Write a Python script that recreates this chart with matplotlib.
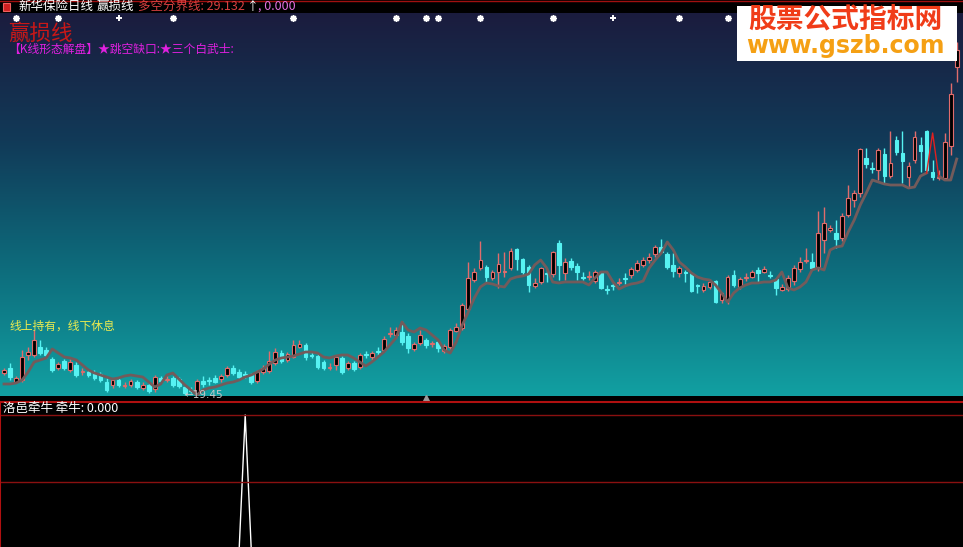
import numpy as np
import matplotlib
matplotlib.use("Agg")
import matplotlib.pyplot as plt
from matplotlib.colors import LinearSegmentedColormap
from matplotlib.patches import Rectangle

plt.rcParams["font.family"] = ["Noto Sans CJK SC", "DejaVu Sans"]

# 日K数据
opens = [
    21.7, 22.2, 20.8, 21.0, 23.5, 23.5, 24.3, 24.0, 23.1, 22.2,
    22.9, 22.0, 22.5, 21.85, 21.8, 21.6, 21.6, 20.8, 20.5, 21.0,
    20.45, 20.5, 20.8, 20.2, 20.5, 20.1, 21.2, 21.05, 21.2, 21.1,
    20.3, 20.05, 19.6, 20.9, 21.05, 21.2, 21.1, 21.5, 22.2, 21.8,
    21.6, 21.5, 20.9, 21.8, 21.9, 22.7, 23.7, 23.0, 23.3, 24.3,
    24.5, 23.55, 23.4, 22.8, 22.25, 22.5, 23.2, 22.2, 22.7, 22.3,
    23.65, 23.3, 23.95, 24.0, 25.65, 25.5, 25.8, 25.4, 24.1, 24.7,
    25.0, 24.65, 24.8, 23.9, 24.3, 25.9, 26.2, 28.1, 31.0, 32.2,
    32.3, 31.2, 31.8, 31.8, 32.2, 34.1, 33.1, 32.3, 30.4, 30.8,
    31.75, 31.6, 34.7, 31.7, 32.9, 32.4, 31.35, 31.35, 30.9, 31.8,
    30.15, 30.55, 30.7, 31.25, 31.5, 32.0, 32.5, 33.0, 33.6, 34.3,
    33.6, 32.5, 31.7, 31.85, 31.7, 30.55, 30.0, 30.3, 30.9, 29.0,
    29.0, 31.5, 30.3, 31.25, 31.3, 32.0, 31.8, 31.55, 31.1, 30.0,
    30.1, 30.9, 32.1, 32.95, 32.8, 32.3, 35.0, 36.0, 35.7, 35.2,
    37.5, 39.0, 39.7, 43.2, 42.25, 42.0, 43.6, 41.4, 45.0, 43.7,
    41.3, 43.0, 44.5, 45.9, 41.8, 41.25, 41.2, 44.4, 52.3,
]
closes = [
    22.0, 21.3, 21.2, 23.3, 23.8, 25.0, 23.7, 23.5, 22.0, 22.6,
    22.2, 22.8, 21.5, 21.95, 21.5, 21.2, 21.0, 20.0, 21.0, 20.5,
    20.55, 20.9, 20.3, 20.5, 19.9, 21.3, 20.9, 21.15, 20.5, 20.4,
    19.7, 19.95, 20.9, 20.6, 20.95, 20.8, 21.4, 22.2, 21.7, 21.3,
    21.5, 20.8, 21.8, 22.2, 22.9, 23.8, 22.9, 23.6, 24.5, 24.6,
    23.3, 23.45, 22.3, 22.2, 22.35, 23.3, 21.8, 22.7, 22.1, 23.5,
    23.55, 23.7, 23.85, 25.1, 25.75, 26.0, 24.8, 24.2, 24.6, 25.5,
    24.5, 24.75, 24.2, 24.4, 26.0, 26.3, 28.5, 31.2, 31.8, 33.0,
    31.3, 31.8, 32.6, 31.9, 33.9, 33.1, 31.8, 30.5, 30.7, 32.2,
    31.65, 33.8, 32.5, 32.8, 32.3, 31.8, 31.25, 31.45, 31.8, 30.2,
    30.05, 30.45, 30.8, 31.15, 32.1, 32.7, 33.0, 33.3, 34.3, 33.8,
    32.3, 31.9, 32.2, 31.75, 29.9, 30.45, 30.4, 30.8, 28.8, 29.7,
    31.3, 30.5, 31.1, 31.35, 31.8, 31.7, 32.1, 31.45, 30.2, 30.3,
    31.2, 32.2, 32.8, 33.05, 32.2, 35.7, 36.7, 36.2, 35.1, 37.4,
    39.2, 39.7, 44.1, 42.6, 42.15, 44.0, 41.4, 42.7, 43.8, 42.9,
    42.4, 45.3, 43.9, 42.0, 41.3, 41.35, 44.8, 49.6, 54.0,
]
highs = [
    22.2, 22.7, 21.4, 24.0, 24.3, 26.0, 25.0, 24.3, 23.3, 22.8,
    23.1, 23.1, 22.8, 22.2, 22.0, 22.0, 21.8, 21.2, 21.2, 21.2,
    20.8, 21.1, 21.0, 20.8, 20.7, 21.5, 21.4, 21.4, 21.4, 21.3,
    20.5, 20.3, 21.1, 21.4, 21.3, 21.5, 21.6, 22.4, 22.5, 22.1,
    21.9, 21.7, 22.0, 22.5, 23.9, 24.2, 24.0, 23.8, 25.0, 25.0,
    24.7, 23.8, 23.6, 23.0, 22.7, 23.5, 23.4, 22.9, 22.9, 23.7,
    23.9, 23.9, 24.3, 25.4, 26.3, 26.3, 26.9, 25.7, 24.8, 26.0,
    25.2, 24.9, 25.0, 24.6, 26.2, 26.7, 28.7, 32.8, 32.2, 34.9,
    32.5, 32.0, 33.7, 33.8, 34.2, 34.2, 33.2, 32.5, 31.2, 32.3,
    32.0, 33.9, 35.0, 33.2, 33.2, 32.7, 31.8, 31.9, 32.0, 31.8,
    30.5, 30.7, 31.2, 31.7, 32.3, 33.0, 33.3, 33.7, 34.5, 35.1,
    33.8, 33.7, 32.4, 32.0, 31.8, 30.6, 30.7, 31.1, 31.0, 29.8,
    31.5, 32.0, 31.3, 31.7, 32.0, 32.3, 32.4, 31.9, 31.2, 30.6,
    31.5, 32.5, 33.3, 34.2, 33.7, 37.9, 38.3, 36.5, 37.0, 37.7,
    40.5, 40.0, 44.2, 44.2, 42.8, 44.2, 44.2, 45.9, 45.4, 45.9,
    42.8, 45.9, 45.3, 46.0, 43.0, 42.0, 45.7, 50.7, 54.8,
]
lows = [
    21.5, 21.0, 20.7, 20.8, 23.0, 23.3, 23.5, 23.2, 21.8, 22.0,
    22.0, 21.8, 21.3, 21.5, 21.3, 21.0, 20.8, 19.8, 20.2, 20.3,
    20.2, 20.3, 20.1, 20.0, 19.7, 19.8, 20.7, 20.8, 20.3, 20.2,
    19.5, 19.7, 19.45, 20.3, 20.5, 20.7, 20.8, 21.3, 21.5, 21.1,
    21.2, 20.6, 20.7, 21.6, 21.7, 22.5, 22.7, 22.8, 23.2, 24.2,
    23.0, 23.2, 22.1, 22.0, 22.0, 22.0, 21.6, 22.0, 21.9, 22.1,
    23.2, 23.0, 23.5, 23.8, 25.3, 25.2, 24.5, 23.7, 23.9, 24.5,
    24.2, 24.3, 23.8, 23.7, 24.1, 25.8, 26.0, 27.9, 30.8, 32.0,
    30.8, 31.0, 30.2, 31.3, 32.0, 32.0, 31.5, 29.8, 30.2, 30.6,
    30.8, 31.3, 31.0, 31.0, 32.0, 31.0, 31.0, 31.0, 30.7, 30.1,
    29.6, 30.0, 30.5, 30.6, 31.2, 31.8, 32.3, 32.7, 33.3, 33.7,
    32.1, 31.3, 31.3, 30.8, 29.8, 29.7, 29.8, 30.1, 28.7, 28.7,
    28.6, 30.3, 30.1, 30.9, 31.2, 30.8, 31.7, 31.2, 29.5, 29.9,
    29.9, 30.5, 31.8, 32.7, 32.2, 31.9, 33.7, 35.8, 34.2, 34.9,
    37.3, 38.3, 39.3, 42.2, 41.7, 41.0, 40.6, 41.2, 43.5, 40.7,
    40.3, 42.7, 41.8, 41.8, 41.0, 41.0, 41.0, 43.5, 50.8,
]
# 赢损线
stop_line = [
    20.6, 20.6, 20.7, 21.0, 21.8, 22.8, 23.0, 23.2, 24.1, 23.7,
    23.3, 23.2, 23.0, 22.5, 22.0, 21.7, 21.5, 21.3, 21.1, 21.2,
    21.4, 21.5, 21.4, 21.3, 20.8, 20.3, 20.6, 21.5, 21.7, 21.1,
    20.5, 20.0, 19.5, 20.0, 20.2, 20.3, 20.5, 20.7, 20.8, 21.0,
    21.3, 21.5, 21.8, 22.1, 22.6, 23.0, 23.2, 23.3, 23.4, 23.6,
    23.8, 23.8, 23.7, 23.3, 23.2, 23.4, 23.5, 23.5, 23.2, 22.8,
    22.4, 22.8, 23.3, 23.8, 24.5, 25.2, 26.8, 26.0, 25.8, 26.2,
    26.0, 25.5, 25.0, 24.0, 23.7, 24.8, 26.5, 27.8, 29.2, 30.3,
    30.7, 30.6, 30.4, 30.3, 31.1, 31.3, 31.4, 31.6, 32.5, 33.0,
    32.2, 30.8, 30.7, 30.8, 30.8, 30.8, 30.8, 30.5, 31.2, 31.8,
    31.8, 30.8, 30.1, 30.4, 30.6, 30.7, 30.9, 32.2, 33.0, 33.7,
    34.8, 34.0, 32.8, 32.3, 31.7, 31.3, 31.1, 31.0, 30.5, 29.7,
    28.8, 29.7, 30.2, 30.5, 30.7, 30.7, 30.8, 30.8, 31.0, 31.8,
    30.2, 30.0, 30.3, 30.8, 32.0, 32.2, 32.0, 34.0, 34.3, 34.4,
    35.8, 37.0, 38.5, 39.7, 41.0, 40.8, 40.6, 40.5, 40.5, 40.5,
    40.2, 40.3, 41.4, 41.7, 45.7, 41.4, 41.0, 41.0, 43.1,
]
red_span = (153, 155)          # 这一段赢损线为红色
star_days = [2, 9, 28, 48, 65, 70, 72, 79, 91, 112, 120]
plus_days = [19, 101]
low_day, low_text = 32, "←19.45"
spike_day, spike_value = 40, 100.0   # 洛邑牵牛
marker_day = 70

W, H = 963, 547
fig = plt.figure(figsize=(W / 100, H / 100), dpi=100, facecolor="black")

ax = fig.add_axes([0, 1 - 396 / H, 1, (396 - 13) / H])
ax_low = fig.add_axes([0, 0, 1, (547 - 402) / H])

n = len(opens)
idx = np.arange(n)
o = np.array(opens)
c = np.array(closes)
xlim = (-4 / 6.03, (W - 4) / 6.03)
ylim = (19.4, 57.7)
ax.set_xlim(xlim)
ax.set_ylim(ylim)
ax.axis("off")

# 背景渐变
bg = LinearSegmentedColormap.from_list(
    "bg", ["#12a0a2", "#0d6c7c", "#113a58", "#1b1c3e"])
grad = np.linspace(0, 1, 256).reshape(-1, 1)
ax.imshow(grad, extent=[*xlim, *ylim], origin="lower", aspect="auto",
          cmap=bg, zorder=0)

# K线
up = c >= o
red_c = "#e06c6c"
cyan_c = "#56f2f2"
wick_colors = np.where(up, red_c, cyan_c)
ax.vlines(idx, lows, highs, colors=wick_colors, lw=1, zorder=2)
body_h = np.maximum(np.abs(c - o), 0.06)
ax.bar(idx, body_h, bottom=np.minimum(o, c), width=0.62,
       color=np.where(up, "black", cyan_c), edgecolor=wick_colors,
       linewidth=0.8, zorder=3)

# 赢损线
sl = np.array(stop_line, dtype=float)
ax.plot(idx[:red_span[0] + 1], sl[:red_span[0] + 1], color="#735b5b", lw=2, zorder=4)
ax.plot(idx[red_span[1]:], sl[red_span[1]:], color="#735b5b", lw=2, zorder=4)
ax.plot(idx[red_span[0]:red_span[1] + 1], sl[red_span[0]:red_span[1] + 1],
        color="#e02020", lw=1, zorder=4)

# 顶部信号
xt = ax.get_xaxis_transform()
ax.scatter(star_days, [0.988] * len(star_days), transform=xt, marker=(8, 2, 0),
           s=14, color="white", linewidths=1.3, zorder=5, clip_on=False)
ax.scatter(plus_days, [0.988] * len(plus_days), transform=xt, marker="+",
           s=22, color="white", linewidths=1.4, zorder=5, clip_on=False)
ax.plot([marker_day], [-0.005], transform=xt, marker="^", ms=5,
        color="#9a9a9a", clip_on=False, zorder=6)

ax.text(low_day - 2.0, lows[low_day], low_text, color="#c8c8c8", fontsize=7.5,
        va="center", ha="left", zorder=6, family=["DejaVu Sans"])

# 文字
ax.text(0.008, 0.945, "赢损线", transform=ax.transAxes, color="#c81818",
        fontsize=15.5, va="center", ha="left")
ax.text(0.008, 0.904, "【K线形态解盘】★跳空缺口:★三个白武士:", transform=ax.transAxes,
        color="#e020e0", fontsize=8.5, va="center", ha="left")
ax.text(0.010, 0.183, "线上持有，线下休息", transform=ax.transAxes,
        color="#eaea50", fontsize=8.5, va="center", ha="left")

# 标题栏
fig.add_artist(Rectangle((0, 1 - 13 / H), 1, 13 / H, transform=fig.transFigure,
                         facecolor="black", edgecolor="none"))
fig.add_artist(plt.Line2D([0, 1], [0.999, 0.999], transform=fig.transFigure,
                          color="#a01010", lw=1))
fig.add_artist(Rectangle((3 / W, 1 - 11 / H), 7 / W, 8 / H, transform=fig.transFigure,
                         facecolor="#d02020", edgecolor="#f06060", lw=0.8))
hy = 1 - 6.5 / H
fig.text(18 / W, hy, "新华保险日线", color="white", fontsize=9, va="center")
fig.text(97 / W, hy, "赢损线", color="white", fontsize=9, va="center")
fig.text(138 / W, hy, "多空分界线: 29.132", color="#d84040", fontsize=9, va="center")
fig.text(247 / W, hy, "↑", color="white", fontsize=8.5, va="center")
fig.text(258 / W, hy, ", 0.000", color="#e070e0", fontsize=9, va="center")

# 水印
fig.add_artist(Rectangle((737 / W, 1 - 61 / H), 220 / W, 55 / H,
                         transform=fig.transFigure, facecolor="white",
                         edgecolor="none", zorder=10))
fig.text(845 / W, 1 - 20 / H, "股票公式指标网", color="#f03c18", fontsize=20,
         fontweight="bold", ha="center", va="center", zorder=11)
fig.text(845 / W, 1 - 46 / H, "www.gszb.com", color="#f5a014", fontsize=17,
         fontweight="bold", ha="center", va="center", zorder=11,
         family=["DejaVu Sans"])

# 副图：洛邑牵牛
spike = np.zeros(n)
spike[spike_day] = spike_value
ax_low.set_facecolor("black")
ax_low.set_xlim(xlim)
ax_low.set_ylim(1.5, 109.7)
ax_low.plot(idx, spike, color="white", lw=1)
for lvl in (100, 50):
    ax_low.axhline(lvl, color="#8a1010", lw=1)
ax_low.set_xticks([])
ax_low.set_yticks([])
for side in ("bottom", "right"):
    ax_low.spines[side].set_visible(False)
for side in ("top", "left"):
    ax_low.spines[side].set_color("#b01010")
    ax_low.spines[side].set_linewidth(1.5)
ax_low.text(0.003, 0.955, "洛邑牵牛 牵牛: 0.000", transform=ax_low.transAxes,
            color="white", fontsize=9, va="center", ha="left")

fig.savefig("out.png", dpi=100, facecolor="black")
